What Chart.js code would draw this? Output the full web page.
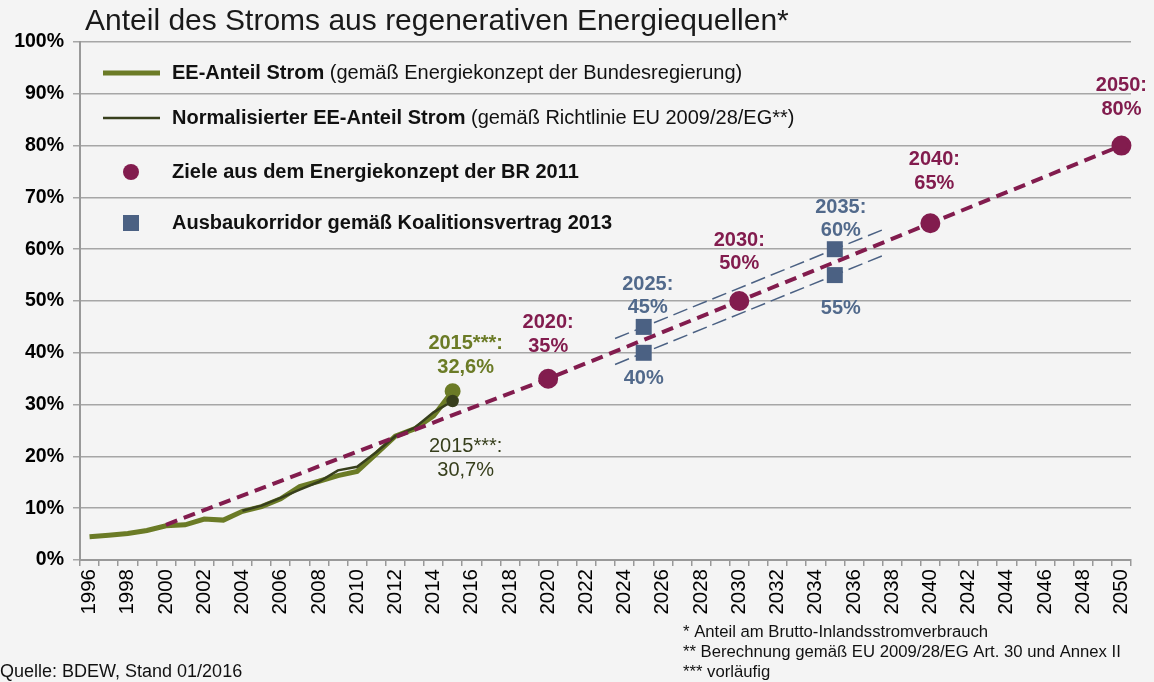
<!DOCTYPE html>
<html>
<head>
<meta charset="utf-8">
<script src="https://cdn.jsdelivr.net/npm/chart.js@4"></script>
<style>
  html, body { margin: 0; padding: 0; background: #f4f4f4; }
  #wrap { width: 1154px; height: 682px; }
</style>
</head>
<body>
<div id="wrap"><canvas id="ee_chart" width="1154" height="682"></canvas></div>
<script>
const years = ['1996', '1997', '1998', '1999', '2000', '2001', '2002', '2003', '2004', '2005',
    '2006', '2007', '2008', '2009', '2010', '2011', '2012', '2013', '2014', '2015',
    '2016', '2017', '2018', '2019', '2020', '2021', '2022', '2023', '2024', '2025',
    '2026', '2027', '2028', '2029', '2030', '2031', '2032', '2033', '2034', '2035',
    '2036', '2037', '2038', '2039', '2040', '2041', '2042', '2043', '2044', '2045',
    '2046', '2047', '2048', '2049', '2050'];

// EE-Anteil Strom (Energiekonzept)
const eeYears = ['1996', '1997', '1998', '1999', '2000', '2001', '2002', '2003', '2004', '2005',
    '2006', '2007', '2008', '2009', '2010', '2011', '2012', '2013', '2014', '2015'];
const eeAnteil = [4.5, 4.8, 5.1, 5.7, 6.6, 6.8, 7.9, 7.7, 9.4, 10.3,
    11.8, 14.2, 15.2, 16.3, 17.1, 20.5, 23.9, 25.3, 27.8, 32.6];

// normalisierter EE-Anteil (EU 2009/28/EG)
const normYears = ['2004', '2005', '2006', '2007', '2008', '2009', '2010', '2011', '2012', '2013', '2014', '2015'];
const normAnteil = [9.5, 10.5, 12.0, 13.6, 15.1, 17.3, 18.0, 20.8, 23.9, 25.5, 28.5, 30.7];

// Ziele Energiekonzept 2011
const zielYears = ['2000', '2020', '2030', '2040', '2050'];
const zielWerte = [6.8, 35, 50, 65, 80];

// Ausbaukorridor Koalitionsvertrag 2013
const korridorYears = [2025, 2035];
const korridorOben = [45, 60];
const korridorUnten = [40, 55];
const korridorLinieYears = [2023.5, 2037.6];
const korridorLinieOben = [42.75, 63.9];
const korridorLinieUnten = [37.75, 58.9];

const olive = '#6b7b26';
const darkOlive = '#373f1c';
const maroon = '#821c4e';
const slate = '#4b6183';
const slateText = '#51698b';
const font = "'Liberation Sans', Arial, sans-serif";

// text labels: [year, value, lines, color, bold, offsets of lines, x shift]
const labels = [
    [2015, 32.6, ['2015***:', '32,6%'], olive, true, [-48, -24], 13],
    [2015, 30.7, ['2015***:', '30,7%'], darkOlive, false, [46, 70], 13],
    [2020, 35, ['2020:', '35%'], maroon, true, [-56, -32], 0],
    [2030, 50, ['2030:', '50%'], maroon, true, [-61, -38], 0],
    [2040, 65, ['2040:', '65%'], maroon, true, [-64, -40], 4],
    [2050, 80, ['2050:', '80%'], maroon, true, [-60, -36], 0],
    [2025, 45, ['2025:', '45%'], slateText, true, [-42, -19], 4],
    [2025, 40, ['40%'], slateText, true, [26], 0],
    [2035, 60, ['2035:', '60%'], slateText, true, [-42, -19], 6],
    [2035, 55, ['55%'], slateText, true, [33], 6]
];

const legendRows = [
    ['EE-Anteil Strom', ' (gemäß Energiekonzept der Bundesregierung)', 'thick', 73],
    ['Normalisierter EE-Anteil Strom', ' (gemäß Richtlinie EU 2009/28/EG**)', 'thin', 118],
    ['Ziele aus dem Energiekonzept der BR 2011', '', 'dot', 172],
    ['Ausbaukorridor gemäß Koalitionsvertrag 2013', '', 'square', 223]
];

const footnotes = [
    '* Anteil am Brutto-Inlandsstromverbrauch',
    '** Berechnung gemäß EU 2009/28/EG Art. 30 und Annex II',
    '*** vorläufig'
];

const textPlugin = {
    id: 'textPlugin',
    afterDatasetsDraw(chart) {
        const ctx = chart.ctx;
        const x = chart.scales.xc;
        const y = chart.scales.y;
        ctx.save();
        ctx.textBaseline = 'middle';

        // title
        ctx.fillStyle = '#1a1a1a';
        ctx.textAlign = 'left';
        ctx.font = '30px ' + font;
        ctx.fillText('Anteil des Stroms aus regenerativen Energiequellen*', 85, 22);

        // legend
        legendRows.forEach(function (row) {
            const ly = row[3];
            if (row[2] === 'thick' || row[2] === 'thin') {
                ctx.strokeStyle = row[2] === 'thick' ? olive : darkOlive;
                ctx.lineWidth = row[2] === 'thick' ? 5 : 2.5;
                ctx.beginPath();
                ctx.moveTo(103, ly);
                ctx.lineTo(160, ly);
                ctx.stroke();
            } else if (row[2] === 'dot') {
                ctx.fillStyle = maroon;
                ctx.beginPath();
                ctx.arc(131, ly, 8, 0, Math.PI * 2);
                ctx.fill();
            } else {
                ctx.fillStyle = slate;
                ctx.fillRect(123, ly - 8, 16, 16);
            }
            ctx.fillStyle = '#111';
            ctx.font = 'bold 20px ' + font;
            ctx.fillText(row[0], 172, ly);
            const w = ctx.measureText(row[0]).width;
            ctx.font = '20px ' + font;
            ctx.fillText(row[1], 172 + w, ly);
        });

        // value labels
        ctx.textAlign = 'center';
        labels.forEach(function (l) {
            const px = x.getPixelForValue(l[0]) + l[6];
            const py = y.getPixelForValue(l[1]);
            ctx.fillStyle = l[3];
            ctx.font = (l[4] ? 'bold ' : '') + '20px ' + font;
            l[2].forEach(function (t, i) {
                ctx.fillText(t, px, py + l[5][i]);
            });
        });

        // footnotes
        ctx.textAlign = 'left';
        ctx.fillStyle = '#111';
        ctx.font = '16.7px ' + font;
        footnotes.forEach(function (t, i) {
            ctx.fillText(t, 683, 632 + i * 20);
        });
        ctx.font = '18px ' + font;
        ctx.fillText('Quelle: BDEW, Stand 01/2016', 0, 672);
        ctx.restore();
    }
};

new Chart(ee_chart, {
    type: 'line',
    data: {
        labels: years,
        datasets: [{
            label: 'Ziele aus dem Energiekonzept der BR 2011',
            data: zielYears.map((yr, i) => ({ x: yr, y: zielWerte[i] })),
            borderColor: maroon,
            backgroundColor: maroon,
            borderWidth: 4,
            borderDash: [12, 7],
            pointRadius: ctx => ctx.dataIndex === 0 ? 0 : 8,
            pointHoverRadius: 8,
            order: 0
        }, {
            label: 'Normalisierter EE-Anteil Strom',
            data: normYears.map((yr, i) => ({ x: yr, y: normAnteil[i] })),
            borderColor: darkOlive,
            backgroundColor: darkOlive,
            borderWidth: 2.5,
            pointRadius: ctx => ctx.dataIndex === normYears.length - 1 ? 5 : 0,
            order: 1
        }, {
            label: 'EE-Anteil Strom',
            data: eeYears.map((yr, i) => ({ x: yr, y: eeAnteil[i] })),
            borderColor: olive,
            backgroundColor: olive,
            borderWidth: 5,
            pointRadius: ctx => ctx.dataIndex === eeYears.length - 1 ? 5.5 : 0,
            order: 2
        }, {
            label: 'Korridor oben',
            xAxisID: 'xc',
            data: korridorLinieYears.map((yr, i) => ({ x: yr, y: korridorLinieOben[i] })),
            borderColor: slate,
            borderWidth: 1.5,
            borderDash: [15, 6],
            pointRadius: 0,
            order: 3
        }, {
            label: 'Korridor unten',
            xAxisID: 'xc',
            data: korridorLinieYears.map((yr, i) => ({ x: yr, y: korridorLinieUnten[i] })),
            borderColor: slate,
            borderWidth: 1.5,
            borderDash: [15, 6],
            pointRadius: 0,
            order: 3
        }, {
            label: 'Ausbaukorridor oben',
            xAxisID: 'xc',
            data: korridorYears.map((yr, i) => ({ x: yr, y: korridorOben[i] })),
            showLine: false,
            pointStyle: 'rect',
            pointRadius: 11.3,
            backgroundColor: slate,
            borderColor: slate,
            borderWidth: 0,
            order: -1
        }, {
            label: 'Ausbaukorridor unten',
            xAxisID: 'xc',
            data: korridorYears.map((yr, i) => ({ x: yr, y: korridorUnten[i] })),
            showLine: false,
            pointStyle: 'rect',
            pointRadius: 11.3,
            backgroundColor: slate,
            borderColor: slate,
            borderWidth: 0,
            order: -1
        }]
    },
    options: {
        responsive: false,
        animation: false,
        layout: { padding: { left: 0, right: 23, top: 42, bottom: 0 } },
        plugins: {
            legend: { display: false },
            title: { display: false },
            tooltip: { enabled: false }
        },
        scales: {
            x: {
                type: 'category',
                offset: true,
                grid: { offset: true, drawOnChartArea: false, tickLength: 6, color: '#999', lineWidth: 1.5 },
                border: { color: '#999', width: 2 },
                ticks: {
                    autoSkip: false,
                    maxRotation: 90,
                    minRotation: 90,
                    padding: 3,
                    color: '#000',
                    font: { family: font, size: 20.5 },
                    callback: function (v) {
                        const l = this.getLabelForValue(v);
                        return Number(l) % 2 === 0 ? l : '';
                    }
                },
                afterFit: s => { s.height = 122; }
            },
            xc: {
                type: 'linear',
                display: false,
                min: 1995.5,
                max: 2050.5
            },
            y: {
                min: 0,
                max: 100,
                ticks: {
                    stepSize: 10,
                    padding: 9,
                    color: '#000',
                    font: { family: font, size: 19.5, weight: 'bold' },
                    callback: v => v + '%'
                },
                grid: { color: '#a6a6a6', lineWidth: 1.5, tickLength: 7 },
                border: { color: '#999', width: 2 },
                afterFit: s => { s.width = 80; }
            }
        }
    },
    plugins: [textPlugin]
});
</script>
</body>
</html>
